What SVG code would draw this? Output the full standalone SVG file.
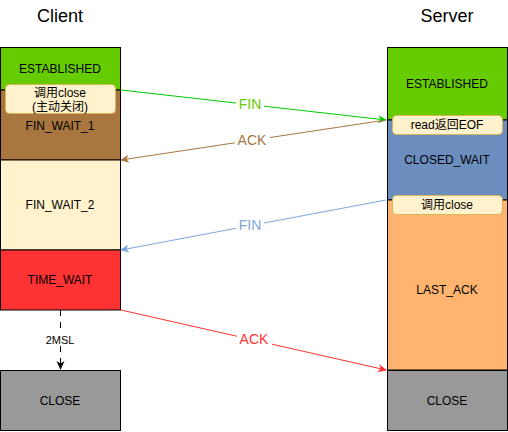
<svg xmlns="http://www.w3.org/2000/svg" width="508" height="432" viewBox="0 0 508 432">
<style>
text{font-family:"Liberation Sans",Arial,sans-serif;fill:#000;text-anchor:middle}
.st{stroke:#000;stroke-width:1}
.t{font-size:12px}
.title{font-size:18px}
.note{fill:#fff2cc;stroke:#d6b656;stroke-width:1}
.lbl{font-size:14px}
</style>
<defs>
<marker id="mg" markerWidth="10" markerHeight="10" refX="8" refY="5" orient="auto" markerUnits="userSpaceOnUse"><path d="M0,1 L9,5 L0,9 L2.5,5 Z" fill="#00cc00"/></marker>
<marker id="mb" markerWidth="10" markerHeight="10" refX="8" refY="5" orient="auto" markerUnits="userSpaceOnUse"><path d="M0,1 L9,5 L0,9 L2.5,5 Z" fill="#a8763e"/></marker>
<marker id="ml" markerWidth="10" markerHeight="10" refX="8" refY="5" orient="auto" markerUnits="userSpaceOnUse"><path d="M0,1 L9,5 L0,9 L2.5,5 Z" fill="#7ea6e0"/></marker>
<marker id="mr" markerWidth="10" markerHeight="10" refX="8" refY="5" orient="auto" markerUnits="userSpaceOnUse"><path d="M0,1 L9,5 L0,9 L2.5,5 Z" fill="#ff3333"/></marker>
<marker id="mk" markerWidth="10" markerHeight="10" refX="8" refY="5" orient="auto" markerUnits="userSpaceOnUse"><path d="M0,1 L9,5 L0,9 L2.5,5 Z" fill="#000"/></marker>
</defs>
<text class="title" x="60" y="22">Client</text>
<text class="title" x="447" y="22">Server</text>

<g id="c-established"><rect class="st" x="0.5" y="47.5" width="120" height="42.5" fill="#66cc00"/><text class="t" x="60" y="73">ESTABLISHED</text></g>
<g id="c-fin-wait-1"><rect class="st" x="0.5" y="90" width="120" height="70" fill="#a8763e"/><text class="t" x="60" y="130">FIN_WAIT_1</text></g>
<g id="c-fin-wait-2"><rect class="st" x="0.5" y="160" width="120" height="90" fill="#fff2cc"/><text class="t" x="60" y="209">FIN_WAIT_2</text></g>
<g id="c-time-wait"><rect class="st" x="0.5" y="250" width="120" height="60" fill="#ff3333"/><text class="t" x="60" y="284">TIME_WAIT</text></g>
<g id="c-close"><rect class="st" x="0.5" y="370.5" width="120" height="60" fill="#999999"/><text class="t" x="60" y="405">CLOSE</text></g>
<g id="c-note"><rect class="note" x="5.5" y="84.5" width="110" height="29" rx="4"/><text class="t" x="60" y="97" style="font-family:'Liberation Sans','Noto Sans CJK SC',sans-serif">调用close</text><text class="t" x="60" y="111" style="font-family:'Liberation Sans','Noto Sans CJK SC',sans-serif">(主动关闭)</text></g>

<g id="s-established"><rect class="st" x="387.5" y="47.5" width="120" height="72.5" fill="#66cc00"/><text class="t" x="447" y="88">ESTABLISHED</text></g>
<g id="s-closed-wait"><rect class="st" x="387.5" y="120" width="120" height="80" fill="#6c8ebf"/><text class="t" x="447" y="164">CLOSED_WAIT</text></g>
<g id="s-last-ack"><rect class="st" x="387.5" y="200" width="120" height="170" fill="#ffb570"/><text class="t" x="447" y="294">LAST_ACK</text></g>
<g id="s-close"><rect class="st" x="387.5" y="370.5" width="120" height="60" fill="#999999"/><text class="t" x="447" y="405">CLOSE</text></g>
<g id="s-note1"><rect class="note" x="392.5" y="115.5" width="110" height="19" rx="4"/><text class="t" x="447" y="129" style="font-family:'Liberation Sans','Noto Sans CJK SC',sans-serif">read返回EOF</text></g>
<g id="s-note2"><rect class="note" x="392.5" y="195.5" width="110" height="19" rx="4"/><text class="t" x="447" y="209" style="font-family:'Liberation Sans','Noto Sans CJK SC',sans-serif">调用close</text></g>

<g id="connectors" fill="none" stroke-width="1">
<line x1="121" y1="90" x2="386" y2="120" stroke="#00cc00" marker-end="url(#mg)"/>
<line x1="386" y1="120" x2="121" y2="160" stroke="#a8763e" marker-end="url(#mb)"/>
<line x1="386" y1="200" x2="121" y2="250" stroke="#7ea6e0" marker-end="url(#ml)"/>
<line x1="121" y1="310" x2="386" y2="370" stroke="#ff3333" marker-end="url(#mr)"/>
<line x1="60.5" y1="310" x2="60.5" y2="369" stroke="#000" stroke-dasharray="6 6" marker-end="url(#mk)"/>
</g>
<g id="labels">
<rect x="236" y="96" width="28" height="16" fill="#fff"/><text class="lbl" x="250" y="109" fill="#66cc00" style="fill:#66cc00">FIN</text>
<rect x="235" y="132" width="35" height="16" fill="#fff"/><text class="lbl" x="252" y="145" style="fill:#a8763e">ACK</text>
<rect x="236" y="217" width="28" height="16" fill="#fff"/><text class="lbl" x="250" y="230" style="fill:#7ea6e0">FIN</text>
<rect x="237" y="331" width="35" height="16" fill="#fff"/><text class="lbl" x="254" y="344" style="fill:#ff3333">ACK</text>
<rect x="43" y="332" width="34" height="14" fill="#fff"/><text x="60" y="344" style="font-size:11px">2MSL</text>
</g>
</svg>
